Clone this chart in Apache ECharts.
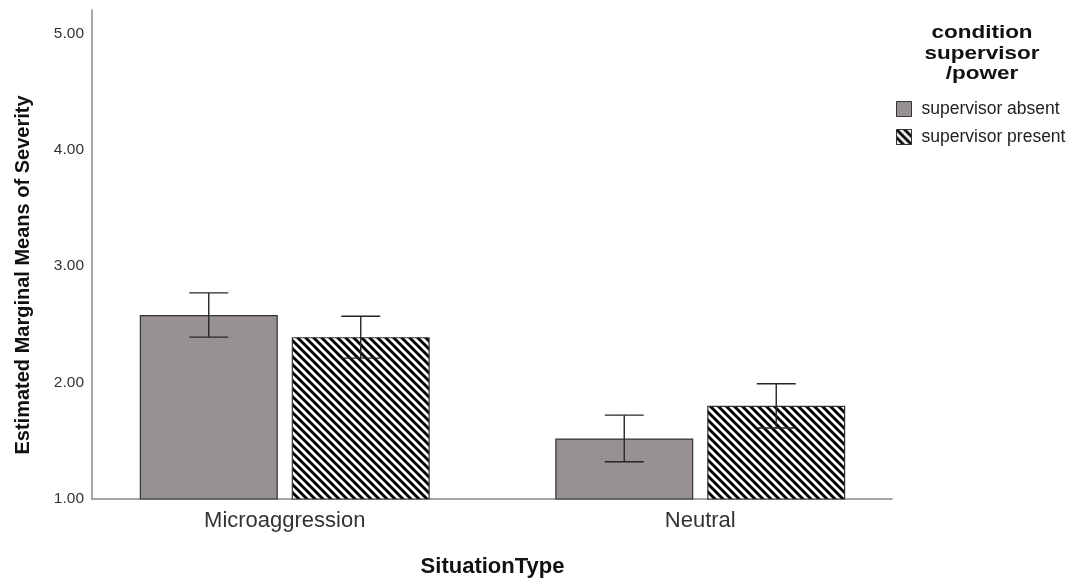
<!DOCTYPE html>
<html>
<head>
<meta charset="utf-8">
<script src="https://cdn.jsdelivr.net/npm/echarts@6/dist/echarts.min.js"></script>
<style>
  html, body { margin: 0; padding: 0; background: #fff; }
  #chart { width: 1071px; height: 585px; }
</style>
</head>
<body>
<div id="chart"></div>
<script>
// Situation types on the x axis
const categories = ['Microaggression', 'Neutral'];
const seriesNames = ['supervisor absent', 'supervisor present'];

// Estimated marginal means of severity
const absentMeans = [2.58, 1.52];
const presentMeans = [2.39, 1.80];

// 95% CI bounds for each mean
const absentLower = [2.39, 1.32];
const absentUpper = [2.77, 1.72];
const presentLower = [2.21, 1.61];
const presentUpper = [2.57, 1.99];

// Y axis range and ticks
const yMin = 1;
const yMax = 5.2;
const yInterval = 1;

const FONT = '"Liberation Sans", Arial, sans-serif';
const BAR_WIDTH = 138;
const BAR_GAP = 14;

// Diagonal hatch tile for the "present" bars
function makeHatch() {
  const p = 8;
  const c = document.createElement('canvas');
  c.width = p; c.height = p;
  const ctx = c.getContext('2d');
  ctx.fillStyle = '#ffffff';
  ctx.fillRect(0, 0, p, p);
  ctx.strokeStyle = '#000000';
  ctx.lineWidth = 2.9;
  ctx.beginPath();
  for (let k = -1; k <= 1; k++) {
    ctx.moveTo(k * p - 1, -1);
    ctx.lineTo(k * p + p + 1, p + 1);
  }
  ctx.stroke();
  return c;
}
const hatch = { image: makeHatch(), repeat: 'repeat' };

const chart = echarts.init(document.getElementById('chart'), null, { renderer: 'canvas' });

function errorSeries(name, lower, upper, offset) {
  return {
    type: 'custom',
    name: name + ' CI',
    xAxisIndex: 1,
    yAxisIndex: 1,
    z: 5,
    silent: true,
    data: categories.map((_, i) => [i, lower[i], upper[i]]),
    encode: { x: 0, y: [1, 2] },
    renderItem: function (params, api) {
      const idx = api.value(0);
      const lo = api.coord([idx, api.value(1)]);
      const hi = api.coord([idx, api.value(2)]);
      const x = lo[0] + offset;
      const half = 19.5;
      const style = { stroke: '#262626', lineWidth: 1.4 };
      return {
        type: 'group',
        children: [
          { type: 'line', shape: { x1: x, y1: lo[1], x2: x, y2: hi[1] }, style: style },
          { type: 'line', shape: { x1: x - half, y1: hi[1], x2: x + half, y2: hi[1] }, style: style },
          { type: 'line', shape: { x1: x - half, y1: lo[1], x2: x + half, y2: lo[1] }, style: style }
        ]
      };
    }
  };
}

const shift = (BAR_WIDTH + BAR_GAP) / 2;

chart.setOption({
  animation: false,
  backgroundColor: '#ffffff',
  textStyle: { fontFamily: FONT },
  // grid 0 carries the visible axis frame, grid 1 the category bands
  grid: [
    { left: 92, top: 10, right: 179, bottom: 86 },
    { left: 77, top: 10, right: 163, bottom: 86 }
  ],
  xAxis: [
    {
      gridIndex: 0,
      type: 'value',
      min: 0,
      max: 1,
      axisLine: { show: true, lineStyle: { color: '#8a8a8a', width: 1.5 } },
      axisTick: { show: false },
      axisLabel: { show: false },
      splitLine: { show: false }
    },
    {
      gridIndex: 1,
      type: 'category',
      data: categories,
      name: 'SituationType',
      nameLocation: 'middle',
      nameGap: 57,
      nameTextStyle: { fontSize: 22, fontWeight: 'bold', color: '#111', fontFamily: FONT },
      axisLine: { show: false },
      axisTick: { show: false },
      axisLabel: { fontSize: 22, color: '#333', margin: 11, fontFamily: FONT }
    }
  ],
  yAxis: [
    {
      gridIndex: 0,
      type: 'value',
      min: yMin,
      max: yMax,
      interval: yInterval,
      axisLine: { show: true, lineStyle: { color: '#8a8a8a', width: 1.5 } },
      axisTick: { show: false },
      splitLine: { show: false },
      axisLabel: {
        fontSize: 15.5, color: '#333', margin: 8, fontFamily: FONT,
        formatter: v => v.toFixed(2),
        showMaxLabel: false
      }
    },
    {
      gridIndex: 1,
      type: 'value',
      min: yMin,
      max: yMax,
      interval: yInterval,
      show: false
    }
  ],
  legend: {
    orient: 'vertical',
    left: 896,
    top: 100,
    padding: 0,
    itemWidth: 15,
    itemHeight: 15,
    itemGap: 10,
    icon: 'rect',
    data: seriesNames,
    textStyle: { fontSize: 17.5, color: '#222', fontFamily: FONT, padding: [0, 0, 0, 5] },
    itemStyle: { borderColor: '#333', borderWidth: 1 }
  },
  graphic: [
    {
      type: 'text',
      x: 982, y: 54,
      scaleX: 1.25,
      style: {
        text: 'condition\nsupervisor\n/power',
        x: 0, y: 0,
        align: 'center',
        verticalAlign: 'middle',
        font: 'bold 18px ' + FONT,
        lineHeight: 20.5,
        fill: '#111'
      }
    },
    {
      type: 'text',
      x: 23, y: 275,
      rotation: Math.PI / 2,
      style: {
        text: 'Estimated Marginal Means of Severity',
        align: 'center',
        verticalAlign: 'middle',
        font: 'bold 20px ' + FONT,
        fill: '#111'
      }
    }
  ],
  series: [
    {
      type: 'bar',
      name: seriesNames[0],
      xAxisIndex: 1,
      yAxisIndex: 1,
      data: absentMeans,
      barWidth: BAR_WIDTH,
      barGap: (BAR_GAP / BAR_WIDTH * 100).toFixed(1) + '%',
      itemStyle: { color: '#979291', borderColor: '#333', borderWidth: 1.2 }
    },
    {
      type: 'bar',
      name: seriesNames[1],
      xAxisIndex: 1,
      yAxisIndex: 1,
      data: presentMeans,
      barWidth: BAR_WIDTH,
      itemStyle: { color: hatch, borderColor: '#333', borderWidth: 1.2 }
    },
    errorSeries(seriesNames[0], absentLower, absentUpper, -shift),
    errorSeries(seriesNames[1], presentLower, presentUpper, shift)
  ]
});
</script>
</body>
</html>
